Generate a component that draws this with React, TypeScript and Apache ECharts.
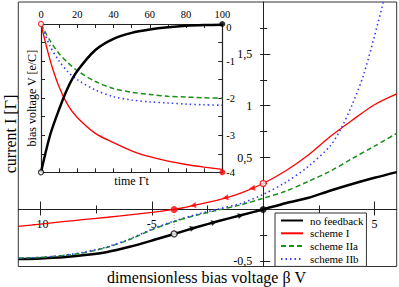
import React, { useEffect, useRef } from 'react';
import * as echarts from 'echarts';

// ---- main panel: current vs dimensionless bias voltage ----
const biasV = [-11, -10, -9, -8, -7, -6, -5, -4, -3, -2, -1, 0, 1, 2, 3, 4, 5, 6];
const noFeedbackI = [-0.478, -0.472, -0.461, -0.44, -0.41, -0.36, -0.3, -0.236, -0.172, -0.112, -0.056, 0, 0.06, 0.11, 0.18, 0.245, 0.305, 0.36];
const schemeII = [-0.163, -0.142, -0.118, -0.096, -0.075, -0.052, -0.028, 0, 0.045, 0.092, 0.158, 0.25, 0.37, 0.52, 0.7, 0.86, 1.01, 1.115];
const schemeIIaI = [-0.47, -0.462, -0.445, -0.415, -0.365, -0.29, -0.195, -0.118, -0.055, -0.005, 0.045, 0.108, 0.175, 0.268, 0.368, 0.49, 0.61, 0.733];
const schemeIIbV = [-11, -10, -9, -8, -7, -6, -5, -4, -3, -2, -1, 0, 1, 2, 3, 3.5, 4, 4.5, 5, 5.45];
const schemeIIbI = [-0.47, -0.462, -0.443, -0.41, -0.36, -0.285, -0.19, -0.112, -0.048, 0.005, 0.058, 0.145, 0.26, 0.41, 0.61, 0.78, 1.01, 1.29, 1.67, 2.04];

// direction arrows along the trajectories
const schemeIArrowV = [-3.15, -1.7, -0.5];
const schemeIArrowI = [0.038, 0.112, 0.204];
const noFbArrowV = [-3.15, -2.2, -1.0];
const noFbArrowI = [-0.18, -0.124, -0.056];

// start / end points of the feedback trajectories
const schemeIStart = [0, 0.25];
const schemeIEnd = [-4, 0];
const noFbStart = [-4, -0.236];
const noFbEnd = [0, 0];

// axis ranges and ticks
const xRange = [-11, 6];
const yRange = [-0.55, 2];
const xMajor = [-10, -5, 5];
const xMinor = [-7.5, -2.5, 2.5];
const yMajor = [-0.5, 0.5, 1, 1.5];
const yMinor = [-0.25, 0.25, 0.75, 1.25, 1.75];

// ---- inset: bias voltage vs time ----
const timeT = [0, 5, 10, 15, 20, 30, 40, 50, 60, 70, 80, 90, 100];
const insetNoFb = [-4, -3.0, -2.3, -1.7, -1.27, -0.7, -0.4, -0.24, -0.15, -0.09, -0.05, -0.03, -0.02];
const insetI = [0, -0.97, -1.7, -2.2, -2.52, -2.95, -3.2, -3.42, -3.58, -3.7, -3.79, -3.86, -3.92];
const insetIIa = [0, -0.45, -0.8, -1.05, -1.26, -1.55, -1.74, -1.84, -1.9, -1.95, -1.97, -1.99, -2.0];
const insetIIb = [0, -0.6, -1.0, -1.3, -1.5, -1.78, -1.96, -2.05, -2.1, -2.13, -2.16, -2.18, -2.19];
const insetIStart = [0, 0];
const insetIEnd = [100, -4];
const insetNoFbStart = [0, -4];
const insetNoFbEnd = [100, 0];
const insetXLabels = [0, 20, 40, 60, 80, 100];
const insetYLabels = [0, -1, -2, -3, -4];

const FONT = "'Liberation Serif', 'Times New Roman', serif";
const AX = '#222';

const zip = (xs: number[], ys: number[]) => xs.map((x, i) => [x, ys[i]]);

export default function App() {
  const ref = useRef<HTMLDivElement>(null);
  useEffect(() => {
    const chart = echarts.init(ref.current!, null, { renderer: 'svg' });

    // main plot rectangle (pixels)
    const L = 18.3, T = 2, W = 378.4, H = 264.5;
    const x0 = L + (W * (0 - xRange[0])) / (xRange[1] - xRange[0]); // pixel of V = 0
    const y0 = T + (H * (yRange[1] - 0)) / (yRange[1] - yRange[0]); // pixel of I = 0

    const hidden = { show: false };
    const hiddenAxis = (gridIndex: number) => ({ type: 'value', gridIndex, show: false, axisLine: { onZero: false } });
    const tickX = (gridIndex: number, position: string, values: number[], length: number, extra: any = {}) => ({
      type: 'value', gridIndex, position, min: xRange[0], max: xRange[1],
      axisLine: { show: false, onZero: false },
      axisTick: { customValues: values, length, lineStyle: { color: AX } },
      axisLabel: hidden, splitLine: hidden, ...extra,
    });
    const tickY = (gridIndex: number, position: string, values: number[], length: number, extra: any = {}) => ({
      type: 'value', gridIndex, position, min: yRange[0], max: yRange[1],
      axisLine: { show: false, onZero: false },
      axisTick: { customValues: values, length, lineStyle: { color: AX } },
      axisLabel: hidden, splitLine: hidden, ...extra,
    });

    const upper = { left: L, top: T, width: W, height: y0 - T };
    const lower = { left: L, top: y0, width: W, height: T + H - y0 };
    const rightPart = { left: x0, top: T, width: L + W - x0, height: H };
    const leftPart = { left: L, top: T, width: x0 - L, height: H };

    const option: any = {
      animation: false,
      textStyle: { fontFamily: FONT, color: '#000' },
      grid: [
        { left: L, top: T, width: W, height: H, show: true, borderColor: '#333', borderWidth: 1, backgroundColor: 'transparent' },
        upper, upper, lower, lower, rightPart, leftPart, leftPart,
        { left: 41, top: 24, width: 181.3, height: 148.3, show: true, backgroundColor: '#fff', borderWidth: 0 },
      ],
      xAxis: [
        { type: 'value', gridIndex: 0, min: xRange[0], max: xRange[1], show: false, axisLine: { onZero: false } },
        tickX(1, 'bottom', xMajor, 6, {
          axisLine: { show: true, onZero: false, lineStyle: { color: AX, width: 1 } },
          axisLabel: { customValues: xMajor, margin: 9, fontSize: 12, color: '#000', fontFamily: FONT },
        }),
        tickX(2, 'bottom', xMinor, 4),
        tickX(3, 'top', xMajor, 8),
        tickX(4, 'top', xMinor, 4),
        hiddenAxis(5),
        hiddenAxis(6),
        hiddenAxis(7),
        {
          type: 'value', gridIndex: 8, position: 'top', min: 0, max: 100, interval: 10,
          axisLine: { onZero: false, lineStyle: { color: AX, width: 1.2 } },
          axisTick: { inside: true, length: 4, lineStyle: { color: AX } },
          axisLabel: { customValues: insetXLabels, margin: 4.5, fontSize: 10.5, color: '#000', fontFamily: FONT },
          splitLine: hidden,
        },
        {
          type: 'value', gridIndex: 8, position: 'bottom', min: 0, max: 100, interval: 10,
          axisLine: { onZero: false, lineStyle: { color: AX, width: 1.2 } },
          axisTick: { inside: true, length: 4, lineStyle: { color: AX } },
          axisLabel: hidden, splitLine: hidden,
          name: 'time \u0393t', nameLocation: 'middle', nameGap: 3,
          nameTextStyle: { fontSize: 12, fontFamily: FONT, color: '#000', verticalAlign: 'top' },
        },
      ],
      yAxis: [
        { type: 'value', gridIndex: 0, min: yRange[0], max: yRange[1], show: false, axisLine: { onZero: false } },
        hiddenAxis(1),
        hiddenAxis(2),
        hiddenAxis(3),
        hiddenAxis(4),
        tickY(5, 'left', [...yMajor, ...yMinor], 3, {
          axisLine: { show: true, onZero: false, lineStyle: { color: AX, width: 1 } },
          axisLabel: {
            customValues: yMajor, margin: 11, fontSize: 12, color: '#000', fontFamily: FONT,
            formatter: (v: number) => String(v).replace('.', ','),
          },
        }),
        tickY(6, 'right', yMajor, 7),
        tickY(7, 'right', yMinor, 4),
        {
          type: 'value', gridIndex: 8, position: 'right', min: -4, max: 0, interval: 0.5,
          axisLine: { onZero: false, lineStyle: { color: AX, width: 1.2 } },
          axisTick: { inside: true, length: 4, lineStyle: { color: AX } },
          axisLabel: {
            customValues: insetYLabels, margin: 4, fontSize: 10.5, color: '#000', fontFamily: FONT,
            formatter: (v: number) => (v === 0 ? '{z|0}' : String(v)),
            rich: { z: { fontSize: 10.5, fontFamily: FONT, color: '#000', padding: [7, 0, 0, 0] } },
          },
          splitLine: hidden,
        },
        {
          type: 'value', gridIndex: 8, position: 'left', min: -4, max: 0, interval: 0.5,
          axisLine: { onZero: false, lineStyle: { color: AX, width: 1.2 } },
          axisTick: { inside: true, length: 4, lineStyle: { color: AX } },
          axisLabel: hidden, splitLine: hidden,
          name: 'bias voltage V [e/C]', nameLocation: 'middle', nameGap: 3, nameRotate: 90,
          nameTextStyle: { fontSize: 12, fontFamily: FONT, color: '#000' },
        },
      ],
      legend: {
        orient: 'vertical', left: 275, top: 213,
        itemWidth: 22, itemHeight: 10, itemGap: 1.8,
        padding: [2, 3, 2, 5],
        borderColor: '#333', borderWidth: 1, backgroundColor: '#fff',
        itemStyle: { opacity: 0 },
        textStyle: { fontSize: 11, fontFamily: FONT, color: '#000', padding: [0, 0, 0, 2] },
        data: ['no feedback', 'scheme I', 'scheme IIa', 'scheme IIb'],
      },
      graphic: [
        {
          type: 'text', x: 10, y: 134, rotation: Math.PI / 2,
          style: { text: 'current I [\u0393]', font: `16px ${FONT}`, fill: '#000', align: 'center', verticalAlign: 'middle' },
        },
        {
          type: 'text', x: 206.5, y: 277,
          style: { text: 'dimensionless bias voltage \u03b2 V', font: `16px ${FONT}`, fill: '#000', align: 'center', verticalAlign: 'middle' },
        },
      ],
      series: [
        {
          name: 'trajectory drop', type: 'line', xAxisIndex: 0, yAxisIndex: 0, symbol: 'none',
          data: [noFbStart, schemeIEnd], lineStyle: { color: '#999', width: 1, type: [1, 2] }, z: 2,
        },
        {
          name: 'no feedback', type: 'line', xAxisIndex: 0, yAxisIndex: 0, symbol: 'none', smooth: 0.3,
          data: zip(biasV, noFeedbackI), lineStyle: { color: '#000', width: 2.5 }, itemStyle: { color: '#000' }, z: 3,
        },
        {
          name: 'scheme I', type: 'line', xAxisIndex: 0, yAxisIndex: 0, symbol: 'none', smooth: 0.3,
          data: zip(biasV, schemeII), lineStyle: { color: '#ff0000', width: 1.3 }, itemStyle: { color: '#ff0000' }, z: 3,
        },
        {
          name: 'scheme IIa', type: 'line', xAxisIndex: 0, yAxisIndex: 0, symbol: 'none', smooth: 0.3,
          data: zip(biasV, schemeIIaI), lineStyle: { color: '#1a8f1a', width: 1.5, type: [5, 3] }, itemStyle: { color: '#1a8f1a' }, z: 3,
        },
        {
          name: 'scheme IIb', type: 'line', xAxisIndex: 0, yAxisIndex: 0, symbol: 'none', smooth: 0.3,
          data: zip(schemeIIbV, schemeIIbI), lineStyle: { color: '#3a3aff', width: 1.6, type: [1.5, 3] }, itemStyle: { color: '#3a3aff' }, z: 3,
        },
        {
          name: 'arrows I', type: 'scatter', xAxisIndex: 0, yAxisIndex: 0, symbol: 'triangle', symbolSize: 6, symbolRotate: 100,
          data: zip(schemeIArrowV, schemeIArrowI), itemStyle: { color: '#ff0000' }, z: 5,
        },
        {
          name: 'arrows nofb', type: 'scatter', xAxisIndex: 0, yAxisIndex: 0, symbol: 'triangle', symbolSize: 6, symbolRotate: -75,
          data: zip(noFbArrowV, noFbArrowI), itemStyle: { color: '#000' }, z: 5,
        },
        {
          name: 'open red', type: 'scatter', xAxisIndex: 0, yAxisIndex: 0, symbol: 'circle', symbolSize: 6,
          data: [schemeIStart], itemStyle: { color: '#fff', borderColor: '#ff0000', borderWidth: 1.3 }, z: 6,
        },
        {
          name: 'filled red', type: 'scatter', xAxisIndex: 0, yAxisIndex: 0, symbol: 'circle', symbolSize: 7,
          data: [schemeIEnd], itemStyle: { color: '#ff0000' }, z: 6,
        },
        {
          name: 'open black', type: 'scatter', xAxisIndex: 0, yAxisIndex: 0, symbol: 'circle', symbolSize: 6,
          data: [noFbStart], itemStyle: { color: '#fff', borderColor: '#000', borderWidth: 1.3 }, z: 6,
        },
        {
          name: 'filled black', type: 'scatter', xAxisIndex: 0, yAxisIndex: 0, symbol: 'circle', symbolSize: 7,
          data: [noFbEnd], itemStyle: { color: '#000' }, z: 6,
        },
        // inset
        {
          name: 'inset IIa', type: 'line', xAxisIndex: 8, yAxisIndex: 8, symbol: 'none', smooth: 0.3,
          data: zip(timeT, insetIIa), lineStyle: { color: '#1a8f1a', width: 1.5, type: [5, 3] }, z: 3,
        },
        {
          name: 'inset IIb', type: 'line', xAxisIndex: 8, yAxisIndex: 8, symbol: 'none', smooth: 0.3,
          data: zip(timeT, insetIIb), lineStyle: { color: '#3a3aff', width: 1.6, type: [1.5, 3] }, z: 3,
        },
        {
          name: 'inset I', type: 'line', xAxisIndex: 8, yAxisIndex: 8, symbol: 'none', smooth: 0.3,
          data: zip(timeT, insetI), lineStyle: { color: '#ff0000', width: 1.3 }, z: 3,
        },
        {
          name: 'inset nofb', type: 'line', xAxisIndex: 8, yAxisIndex: 8, symbol: 'none', smooth: 0.3,
          data: zip(timeT, insetNoFb), lineStyle: { color: '#000', width: 2.5 }, z: 3,
        },
        {
          name: 'inset open red', type: 'scatter', xAxisIndex: 8, yAxisIndex: 8, symbol: 'circle', symbolSize: 5,
          data: [insetIStart], itemStyle: { color: '#fff', borderColor: '#ff0000', borderWidth: 1.2 }, z: 6,
        },
        {
          name: 'inset filled red', type: 'scatter', xAxisIndex: 8, yAxisIndex: 8, symbol: 'circle', symbolSize: 6,
          data: [insetIEnd], itemStyle: { color: '#ff0000' }, z: 6,
        },
        {
          name: 'inset open black', type: 'scatter', xAxisIndex: 8, yAxisIndex: 8, symbol: 'circle', symbolSize: 5,
          data: [insetNoFbStart], itemStyle: { color: '#fff', borderColor: '#000', borderWidth: 1.2 }, z: 6,
        },
        {
          name: 'inset filled black', type: 'scatter', xAxisIndex: 8, yAxisIndex: 8, symbol: 'circle', symbolSize: 6,
          data: [insetNoFbEnd], itemStyle: { color: '#000' }, z: 6,
        },
      ],
    };
    chart.setOption(option);
    return () => chart.dispose();
  }, []);
  return (
    <div
      ref={ref}
      style={{ position: 'fixed', left: 0, top: 0, width: 399, height: 287, background: '#fff' }}
    />
  );
}
